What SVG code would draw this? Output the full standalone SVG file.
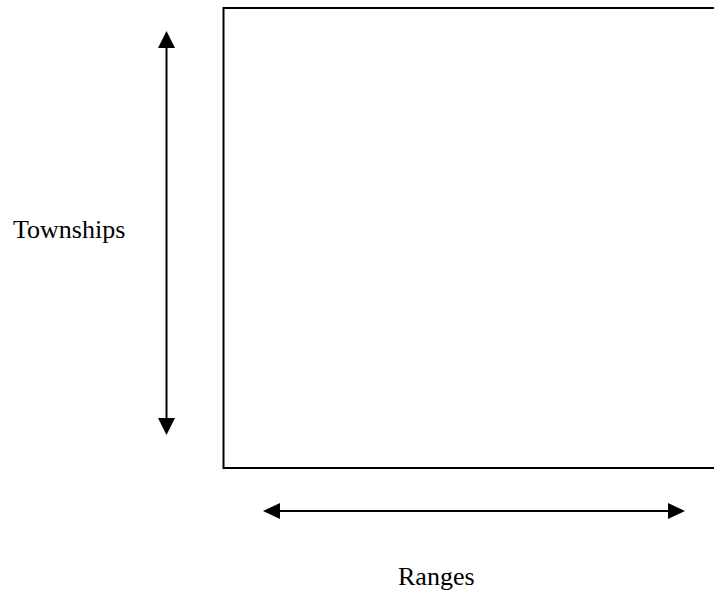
<svg xmlns="http://www.w3.org/2000/svg" width="714" height="593" viewBox="0 0 714 593">
<defs>
<style>
.lbl{font-family:"Liberation Serif","Times New Roman",serif;font-size:26px;fill:#000}
.arr{stroke:#000;stroke-width:2;fill:none}
.head{fill:#000}
</style>
</defs>
<rect width="714" height="593" fill="#fff"/>
<g id="square">
<rect x="223.5" y="8" width="495" height="460" fill="none" stroke="#000" stroke-width="2"/>
</g>
<g id="connectors">
<line class="arr" x1="166.5" y1="46" x2="166.5" y2="418"/>
<path class="head" d="M166.5,31 L158,48 L175,48 Z"/>
<path class="head" d="M166.5,435 L158,418 L175,418 Z"/>
<line class="arr" x1="278" y1="511" x2="669" y2="511"/>
<path class="head" d="M263,511 L280,503 L280,519 Z"/>
<path class="head" d="M685,511 L668,503 L668,519 Z"/>
</g>
<g id="townships">
<text class="lbl" x="13" y="238">Townships</text>
</g>
<g id="ranges">
<text class="lbl" x="398" y="585">Ranges</text>
</g>
</svg>
